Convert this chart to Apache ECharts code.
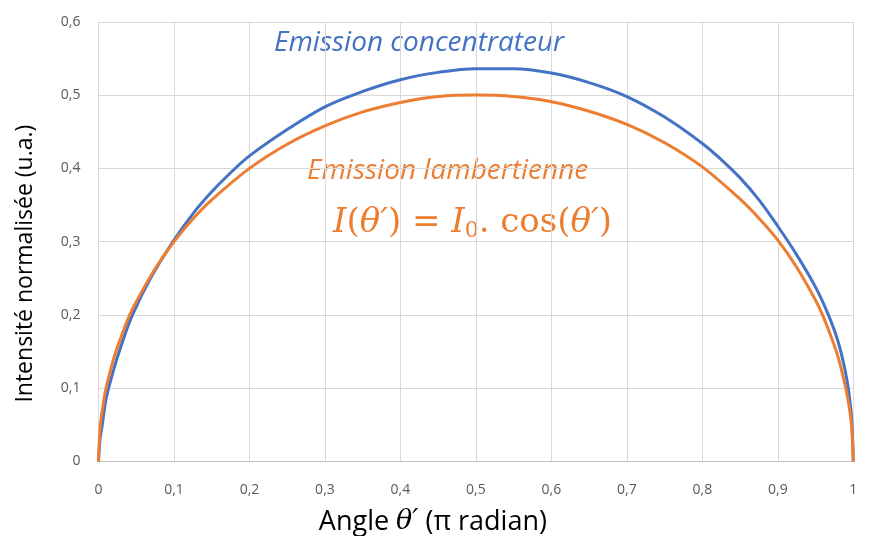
<!DOCTYPE html>
<html>
<head>
<meta charset="utf-8">
<script src="https://cdn.jsdelivr.net/npm/echarts@6/dist/echarts.min.js"></script>
<style>
html,body{margin:0;padding:0;background:#fff;}
#chart{width:877px;height:536px;}
</style>
</head>
<body>
<div id="chart"></div>
<script>
// ---- Data ----
const xConcentrateur = [0, 0.002, 0.005, 0.01, 0.02, 0.03, 0.045, 0.07, 0.1, 0.125, 0.15, 0.175, 0.2, 0.25, 0.3, 0.35, 0.4, 0.45, 0.5, 0.55, 0.6, 0.65, 0.7, 0.75, 0.8, 0.825, 0.85, 0.875, 0.9, 0.925, 0.95, 0.967, 0.98, 0.99, 0.995, 0.998, 1];
const yConcentrateur = [0, 0.03, 0.05, 0.085, 0.125, 0.158, 0.2, 0.252, 0.302, 0.338, 0.368, 0.394, 0.417, 0.453, 0.484, 0.505, 0.521, 0.531, 0.536, 0.536, 0.53, 0.517, 0.498, 0.47, 0.434, 0.412, 0.387, 0.357, 0.321, 0.282, 0.238, 0.2, 0.163, 0.12, 0.087, 0.055, 0];

const xLambert = [0, 0.002, 0.005, 0.01, 0.02, 0.03, 0.04, 0.05, 0.075, 0.1, 0.125, 0.15, 0.2, 0.25, 0.3, 0.35, 0.4, 0.45, 0.5, 0.55, 0.6, 0.65, 0.7, 0.75, 0.8, 0.85, 0.875, 0.9, 0.925, 0.95, 0.96, 0.97, 0.98, 0.99, 0.995, 0.998, 1];
const yLambert = [0, 0.045, 0.07, 0.1, 0.14, 0.17, 0.197, 0.218, 0.263, 0.3, 0.331, 0.357, 0.4, 0.433, 0.458, 0.477, 0.49, 0.498, 0.5, 0.498, 0.491, 0.478, 0.46, 0.435, 0.402, 0.358, 0.332, 0.302, 0.265, 0.22, 0.198, 0.172, 0.142, 0.1, 0.072, 0.045, 0];

const xTicks = [0, 0.1, 0.2, 0.3, 0.4, 0.5, 0.6, 0.7, 0.8, 0.9, 1];
const yTicks = [0, 0.1, 0.2, 0.3, 0.4, 0.5, 0.6];

const seriesNames = ['Emission concentrateur', 'Emission lambertienne'];

function zip(xs, ys) { return xs.map((x, i) => [x, ys[i]]); }
function fmt(v) { return String(Math.round(v * 10) / 10).replace('.', ','); }

const chart = echarts.init(document.getElementById('chart'), null, {renderer: 'canvas'});
const font = 'Open Sans, Liberation Sans, sans-serif';

chart.setOption({
  animation: false,
  backgroundColor: '#ffffff',
  grid: {left: 98.5, right: 23.7, top: 21.8, bottom: 74.5, containLabel: false, outerBoundsMode: 'none'},
  xAxis: {
    type: 'value', min: xTicks[0], max: xTicks[xTicks.length - 1], interval: 0.1,
    axisLine: {show: true, lineStyle: {color: '#bfbfbf', width: 1}},
    axisTick: {show: false},
    splitLine: {show: true, lineStyle: {color: '#d9d9d9', width: 1}},
    axisLabel: {formatter: fmt, color: '#595959', fontSize: 14, fontFamily: font, margin: 22},
    name: '{n|Angle }{it|θ′}{n| (π radian)}',
    nameLocation: 'middle', nameGap: 47,
    nameTextStyle: {
      padding: [0, 86, 0, 0],
      rich: {
        n: {fontSize: 27, color: '#000', fontFamily: font},
        it: {fontSize: 27, color: '#000', fontStyle: 'italic', fontFamily: 'DejaVu Serif'}
      }
    }
  },
  yAxis: {
    type: 'value', min: yTicks[0], max: yTicks[yTicks.length - 1], interval: 0.1,
    axisLine: {show: false},
    axisTick: {show: false},
    splitLine: {show: true, lineStyle: {color: '#d9d9d9', width: 1}},
    axisLabel: {formatter: fmt, color: '#595959', fontSize: 14, fontFamily: font, margin: 18},
    name: 'Intensité normalisée (u.a.)',
    nameLocation: 'middle', nameGap: 62, nameRotate: 90,
    nameTextStyle: {fontSize: 23, color: '#000', fontFamily: font, padding: [0, 44, 0, 0]}
  },
  series: [
    {
      name: seriesNames[0], type: 'line', data: zip(xConcentrateur, yConcentrateur),
      showSymbol: false, smooth: 0.35, lineStyle: {color: '#4472C4', width: 3}, z: 2
    },
    {
      name: seriesNames[1], type: 'line', data: zip(xLambert, yLambert),
      showSymbol: false, smooth: 0.35, lineStyle: {color: '#ED7D31', width: 3}, z: 3
    }
  ],
  graphic: [
    {type: 'text', left: 274, top: 29, style: {text: seriesNames[0], fill: '#4472C4', fontSize: 28, fontStyle: 'italic', fontFamily: font}},
    {type: 'text', left: 307, top: 157, style: {text: seriesNames[1], fill: '#ED7D31', fontSize: 28, fontStyle: 'italic', fontFamily: font}},
    {type: 'text', left: 333, top: 206, style: {
      text: '{i|I}{n|(}{i|θ′}{n|) = }{i|I}{s|0}{n|. cos(}{i|θ′}{n|)}',
      rich: {
        i: {fontSize: 34, fill: '#ED7D31', fontStyle: 'italic', fontFamily: 'DejaVu Serif'},
        n: {fontSize: 34, fill: '#ED7D31', fontFamily: 'DejaVu Serif'},
        s: {fontSize: 22, fill: '#ED7D31', fontFamily: 'DejaVu Serif', verticalAlign: 'bottom', padding: [16, 0, 0, 0]}
      }
    }}
  ]
});
</script>
</body>
</html>
